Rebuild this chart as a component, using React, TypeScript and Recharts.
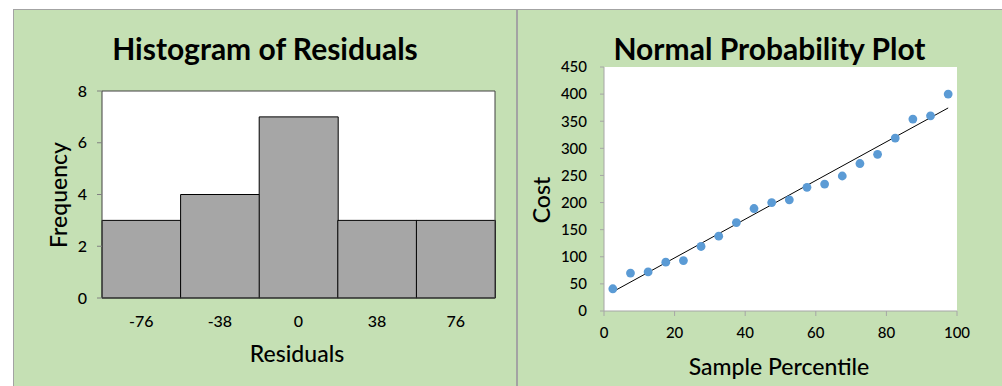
import React from "react";
import {
  BarChart,
  Bar,
  ScatterChart,
  Scatter,
  XAxis,
  YAxis,
  CartesianGrid,
} from "recharts";

// histogram
const binLabels = ["-76", "-38", "0", "38", "76"];
const binCounts = [3, 4, 7, 3, 3];
const freqTicks = [0, 2, 4, 6, 8];

// normal probability plot
const percentiles = [
  2.5, 7.5, 12.5, 17.5, 22.5, 27.5, 32.5, 37.5, 42.5, 47.5, 52.5, 57.5, 62.5,
  67.5, 72.5, 77.5, 82.5, 87.5, 92.5, 97.5,
];
const costs = [
  41, 70, 72, 90, 93, 119, 138, 163, 189, 200, 205, 228, 234, 249, 272, 289,
  319, 354, 360, 400,
];
const trendX = [2.5, 97.5];
const trendY = [35.5, 374.5];
const costTicks = [0, 50, 100, 150, 200, 250, 300, 350, 400, 450];
const pctTicks = [0, 20, 40, 60, 80, 100];

const histData = binLabels.map((name, i) => ({ name, count: binCounts[i] }));
const npData = percentiles.map((x, i) => ({ x, y: costs[i] }));
const trendData = trendX.map((x, i) => ({ x, y: trendY[i] }));

const FONT = "Lato, 'Open Sans', sans-serif";
const GREEN = "#c5e0b4";
const PANEL_BORDER = "#a3a3a3";

// tick label renderers (so size/colour are certain)
const makeTick =
  (size: number, anchor: "middle" | "end", dy: string) => (props: any) => {
    const { x, y, payload } = props;
    return (
      <text
        x={x}
        y={y}
        dy={dy}
        textAnchor={anchor}
        fill="#000"
        fontSize={size}
        fontWeight={500}
        fontFamily={FONT}
      >
        {payload.value}
      </text>
    );
  };

const histXTick = makeTick(16, "middle", "0.71em");
const histYTick = makeTick(16, "end", "0.355em");
const npXTick = makeTick(15, "middle", "0.71em");
const npYTick = makeTick(15, "end", "0.355em");

const Dot = (props: any) => {
  const { cx, cy } = props;
  if (cx == null || cy == null) return null;
  return <circle cx={cx} cy={cy} r={4.4} fill="#5b9bd5" />;
};

const abs = (left: number, top: number): React.CSSProperties => ({
  position: "absolute",
  left,
  top,
  fontFamily: FONT,
  color: "#000",
  whiteSpace: "nowrap",
  lineHeight: 1,
});

export default function App() {
  return (
    <div
      style={{
        position: "absolute",
        left: 0,
        top: 0,
        width: 1002,
        height: 386,
        background: "#fff",
        overflow: "hidden",
      }}
    >
      {/* left panel */}
      <div
        style={{
          position: "absolute",
          left: 13,
          top: 9,
          width: 504,
          height: 390,
          background: GREEN,
          borderLeft: `1px solid ${PANEL_BORDER}`,
          borderTop: `1px solid ${PANEL_BORDER}`,
          boxSizing: "border-box",
        }}
      >
        <BarChart
          width={504}
          height={377}
          data={histData}
          barCategoryGap={0}
          margin={{ top: 80, right: 22, bottom: 59, left: 48 }}
        >
          <CartesianGrid fill="#fff" horizontal={false} vertical={false} />
          <XAxis
            dataKey="name"
            tickLine={false}
            tickSize={0}
            tickMargin={18}
            height={30}
            axisLine={{ stroke: "#404040" }}
            tick={histXTick}
          />
          <XAxis
            xAxisId="top"
            dataKey="name"
            orientation="top"
            height={1}
            tick={false}
            tickLine={false}
            axisLine={{ stroke: "#404040" }}
          />
          <YAxis
            domain={[0, 8]}
            ticks={freqTicks}
            width={40}
            tickSize={5}
            tickMargin={10}
            axisLine={{ stroke: "#404040" }}
            tickLine={{ stroke: "#808080" }}
            tick={histYTick}
          />
          <YAxis
            yAxisId="right"
            orientation="right"
            domain={[0, 8]}
            width={1}
            tick={false}
            tickLine={false}
            axisLine={{ stroke: "#404040" }}
          />
          <Bar
            dataKey="count"
            fill="#a6a6a6"
            stroke="#000"
            strokeWidth={1}
            isAnimationActive={false}
          />
        </BarChart>
      </div>
      <div style={{ ...abs(0, 33), width: 530, textAlign: "center", fontSize: 30, fontWeight: 700 }}>
        Histogram of Residuals
      </div>
      <div style={{ ...abs(0, 342), width: 594, textAlign: "center", fontSize: 23, fontWeight: 500 }}>
        Residuals
      </div>
      <div
        style={{
          ...abs(58, 195),
          fontSize: 23,
          fontWeight: 500,
          transform: "translate(-50%, -50%) rotate(-90deg)",
        }}
      >
        Frequency
      </div>

      {/* right panel */}
      <div
        style={{
          position: "absolute",
          left: 516,
          top: 9,
          width: 490,
          height: 390,
          background: GREEN,
          borderLeft: `2px solid ${PANEL_BORDER}`,
          borderTop: `1px solid ${PANEL_BORDER}`,
          boxSizing: "border-box",
        }}
      >
        <ScatterChart
          width={485}
          height={377}
          margin={{ top: 57, right: 46, bottom: 46, left: 36 }}
        >
          <CartesianGrid fill="#fff" horizontal={false} vertical={false} />
          <XAxis
            type="number"
            dataKey="x"
            domain={[0, 100]}
            ticks={pctTicks}
            height={30}
            tickSize={5}
            tickMargin={11}
            axisLine={{ stroke: "#a6a6a6" }}
            tickLine={{ stroke: "#a6a6a6" }}
            tick={npXTick}
          />
          <YAxis
            type="number"
            dataKey="y"
            domain={[0, 450]}
            ticks={costTicks}
            width={50}
            tickSize={4}
            tickMargin={13}
            axisLine={{ stroke: "#a6a6a6" }}
            tickLine={{ stroke: "#a6a6a6" }}
            tick={npYTick}
          />
          <Scatter
            data={trendData}
            line={{ stroke: "#000", strokeWidth: 1 }}
            shape={() => null}
            isAnimationActive={false}
          />
          <Scatter data={npData} shape={Dot} isAnimationActive={false} />
        </ScatterChart>
      </div>
      <div style={{ ...abs(517, 33), width: 505, textAlign: "center", fontSize: 30, fontWeight: 700 }}>
        Normal Probability Plot
      </div>
      <div style={{ ...abs(517, 355), width: 524, textAlign: "center", fontSize: 23, fontWeight: 500 }}>
        Sample Percentile
      </div>
      <div
        style={{
          ...abs(541, 200),
          fontSize: 23,
          fontWeight: 500,
          transform: "translate(-50%, -50%) rotate(-90deg)",
        }}
      >
        Cost
      </div>
    </div>
  );
}
